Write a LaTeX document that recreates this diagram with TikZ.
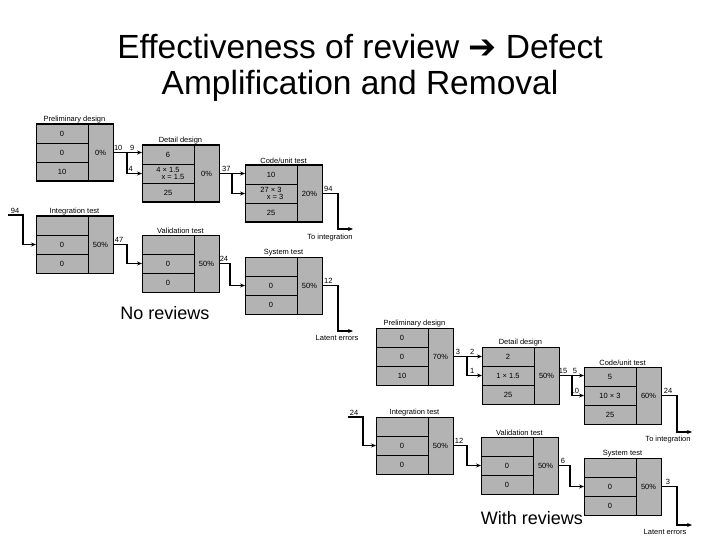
\documentclass[tikz,border=0pt]{standalone}
\usepackage{fontspec}
\setmainfont[Ligatures=NoCommon]{Liberation Sans}
\newfontfamily\arrowsym{DejaVu Sans}
\usetikzlibrary{positioning,arrows.meta}

\definecolor{stagegray}{HTML}{B3B3B3}

% one stage: name, x, y, title, three rows, removal percentage
\newcommand{\stagebox}[8]{%
  \node[cell, anchor=north west] (#1-1) at (#2,#3) {#5};
  \node[cell, below=0pt of #1-1] (#1-2) {#6};
  \node[cell, below=0pt of #1-2] (#1-3) {#7};
  \node[pct, right=0pt of #1-2] (#1-p) {#8};
  \node[stageframe, anchor=north west, label={[stagetitle]above:#4}] (#1) at (#2,#3) {};
}

\begin{document}
\begin{tikzpicture}[x=1pt, y=-1pt,
    cell/.style={draw, fill=stagegray, line width=0.6pt, minimum width=52pt, minimum height=19pt,
      inner sep=0pt, outer sep=0pt, font=\fontsize{7.5}{7.5}\selectfont, align=center},
    pct/.style={cell, minimum width=25pt, minimum height=57pt},
    stageframe/.style={draw, line width=1pt, minimum width=77pt, minimum height=57pt, inner sep=0pt, outer sep=0pt},
    stagetitle/.style={font=\fontsize{7.5}{8}\selectfont, inner sep=1pt},
    flow/.style={-{Stealth[length=5pt, width=4pt]}, line width=1.1pt},
    lbl/.style={font=\fontsize{7.5}{9}\selectfont, inner sep=1pt},
    caption/.style={font=\fontsize{18}{20}\selectfont},
    headline/.style={font=\fontsize{33.5}{36}\selectfont, anchor=base}]

  \useasboundingbox[fill=white] (0,0) rectangle (720,540);

  % Title
  \node[headline] (title1) at (360,59) {Effectiveness of review {\arrowsym ➔} Defect};
  \node[headline] (title2) at (360,95) {Amplification and Removal};

  % No reviews
  \stagebox{pdA}{36}{124}{Preliminary design}{0}{0}{10}{0\%}
  \stagebox{ddA}{142}{145}{Detail design}{6}{4 × 1.5\\\hspace*{10pt}x = 1.5}{25}{0\%}
  \stagebox{cuA}{245}{165}{Code/unit test}{10}{27 × 3\\\hspace*{8pt}x = 3}{25}{20\%}
  \stagebox{itA}{36}{216}{Integration test}{}{0}{0}{50\%}
  \stagebox{vtA}{142}{235}{Validation test}{}{0}{0}{50\%}
  \stagebox{stA}{245}{257}{System test}{}{0}{0}{50\%}

  \draw[flow] (pdA.east) -- node[lbl, above, pos=0.18]{10} node[lbl, above, pos=0.66]{9} (pdA.east -| ddA-1.west);
  \draw[flow] (pdA.east) -- ++(14,0) |- node[lbl, above, pos=0.62]{4} (ddA-2.west);
  \draw[flow] (ddA.east) -- node[lbl, above, pos=0.28]{37} (ddA.east -| cuA-1.west);
  \draw[flow] (ddA.east) -- ++(13,0) |- (cuA-2.west);

  \coordinate (toIntA) at (353,229);
  \draw[flow] (cuA.east) -- node[lbl, above, pos=0.4]{94} ++(16,0) |- (toIntA);
  \node[lbl] (toIntAtxt) at (330,238) {To integration};

  \coordinate (inA) at (8,215);
  \draw[flow] (inA) -- node[lbl, above, pos=0.47]{94} ++(15,0) |- (itA-2.west);
  \draw[flow] (itA.east) -- node[lbl, above, pos=0.43]{47} ++(14,0) |- (vtA-2.west);
  \draw[flow] (vtA.east) -- node[lbl, above, pos=0.45]{24} ++(11,0) |- (stA-2.west);

  \coordinate (latentA) at (353,331);
  \draw[flow] (stA.east) -- node[lbl, above, pos=0.4]{12} ++(16,0) |- (latentA);
  \node[lbl] (latentAtxt) at (337,338) {Latent errors};

  \node[caption] (noRev) at (165,313) {No reviews};

  % With reviews
  \stagebox{pdB}{376}{328}{Preliminary design}{0}{0}{10}{70\%}
  \stagebox{ddB}{482}{347}{Detail design}{2}{1 × 1.5}{25}{50\%}
  \stagebox{cuB}{584}{367}{Code/unit test}{5}{10 × 3}{25}{60\%}
  \stagebox{itB}{376}{417}{Integration test}{}{0}{0}{50\%}
  \stagebox{vtB}{481}{437}{Validation test}{}{0}{0}{50\%}
  \stagebox{stB}{584}{458}{System test}{}{0}{0}{50\%}

  \draw[flow] (pdB.east) -- node[lbl, above, pos=0.17]{3} node[lbl, above, pos=0.66]{2} (pdB.east -| ddB-1.west);
  \draw[flow] (pdB.east) -- ++(14,0) |- node[lbl, above, pos=0.67]{1} (ddB-2.west);
  \draw[flow] (ddB.east) -- node[lbl, above, pos=0.16]{15} node[lbl, above, pos=0.64]{5} (ddB.east -| cuB-1.west);
  \draw[flow] (ddB.east) -- ++(13,0) |- node[lbl, above, pos=0.62]{10} (cuB-2.west);

  \coordinate (toIntB) at (692,432);
  \draw[flow] (cuB.east) -- node[lbl, above, pos=0.44]{24} ++(16,0) |- (toIntB);
  \node[lbl] (toIntBtxt) at (668,440) {To integration};

  \coordinate (inB) at (348,417);
  \draw[flow] (inB) -- node[lbl, above, pos=0.4]{24} ++(15,0) |- (itB-2.west);
  \draw[flow] (itB.east) -- node[lbl, above, pos=0.43]{12} ++(14,0) |- (vtB-2.west);
  \draw[flow] (vtB.east) -- node[lbl, above, pos=0.42]{6} ++(12,0) |- (stB-2.west);

  \coordinate (latentB) at (692,525);
  \draw[flow] (stB.east) -- node[lbl, above, pos=0.44]{3} ++(16,0) |- (latentB);
  \node[lbl] (latentBtxt) at (665,532) {Latent errors};

  \node[caption] (withRev) at (532,518) {With reviews};
\end{tikzpicture}
\end{document}
